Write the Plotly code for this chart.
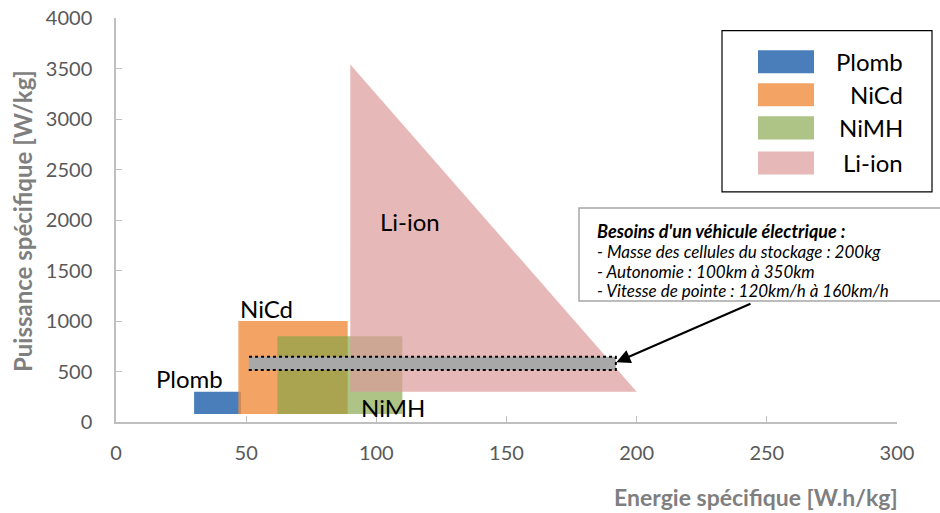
import plotly.graph_objects as go

# ---- data ----
names = ["Plomb", "NiCd", "NiMH", "Li-ion"]
plomb_x = [30, 48, 48, 30]
plomb_y = [80, 80, 300, 300]
nicd_x = [47, 89, 89, 47]
nicd_y = [80, 80, 1000, 1000]
nimh_x = [62, 110, 110, 62]
nimh_y = [80, 80, 850, 850]
liion_x = [90, 200, 90]
liion_y = [300, 300, 3540]
besoin_x = [51, 192, 192, 51]
besoin_y = [515, 515, 645, 645]

x_ticks = [0, 50, 100, 150, 200, 250, 300]
y_ticks = [0, 500, 1000, 1500, 2000, 2500, 3000, 3500, 4000]

label_pos = {"Plomb": (28.4, 434), "NiCd": (58, 1127), "NiMH": (106.4, 146), "Li-ion": (113, 1981)}
besoins_lines = [
    "<b><i>Besoins d'un véhicule électrique :</i></b>",
    "<i>- Masse des cellules du stockage : 200kg</i>",
    "<i>- Autonomie : 100km à 350km</i>",
    "<i>- Vitesse de pointe : 120km/h à 160km/h</i>",
]

colors = {
    "Plomb": "rgba(74,126,187,1)",
    "NiCd": "rgba(240,140,60,0.8)",
    "NiMH": "rgba(130,165,70,0.65)",
    "Li-ion": "rgba(219,155,154,0.7)",
}
series = {"Plomb": (plomb_x, plomb_y), "NiCd": (nicd_x, nicd_y),
          "NiMH": (nimh_x, nimh_y), "Li-ion": (liion_x, liion_y)}

FONT = "Lato"
fig = go.Figure()
for n in names:
    xs, ys = series[n]
    fig.add_trace(go.Scatter(x=xs, y=ys, fill="toself", mode="lines",
                             fillcolor=colors[n], line=dict(width=0, color=colors[n]),
                             name=n, showlegend=False, hoverinfo="name"))

fig.add_trace(go.Scatter(x=besoin_x, y=besoin_y, fill="toself", mode="lines",
                         fillcolor="#A8A8A8", line=dict(width=2, color="black", dash="dot"),
                         showlegend=False, name="Besoins"))

W, H = 940, 513
REF_L, REF_R, REF_T, REF_B = 116, 897, 18.3, 421.7
L, T = REF_L, REF_T
pw, ph = REF_R - REF_L, REF_B - REF_T
R = W - L - pw
B = H - T - ph

def px(xp):
    return (xp - REF_L) / pw

def py(yp):
    return (REF_B - yp) / ph

annotations = []
for n in names:
    x, y = label_pos[n]
    annotations.append(dict(x=x, y=y, xref="x", yref="y", text=n, showarrow=False,
                            xanchor="center", yanchor="middle",
                            font=dict(family=FONT, size=24, color="black")))

# arrow
annotations.append(dict(x=192.2, y=592, ax=244.3, ay=1177, xref="x", yref="y",
                        axref="x", ayref="y", showarrow=True, arrowhead=2,
                        arrowsize=1.4, arrowwidth=2, arrowcolor="black", text=""))

# text box lines
for i, (t, yy) in enumerate(zip(besoins_lines, [231, 251, 271, 290])):
    annotations.append(dict(x=px(595), y=py(yy), xref="paper", yref="paper", text=t,
                            showarrow=False, xanchor="left", yanchor="middle",
                            font=dict(family=FONT, size=18 if i == 0 else 17, color="black")))

# axis titles
annotations.append(dict(x=px(22), y=py(221), xref="paper", yref="paper",
                        xanchor="center", yanchor="middle",
                        text="<b>Puissance spécifique [W/kg]</b>", textangle=-90,
                        showarrow=False, font=dict(family=FONT, size=24, color="#7F7F7F")))
annotations.append(dict(x=px(756), y=py(497), xref="paper", yref="paper",
                        xanchor="center", yanchor="middle",
                        text="<b>Energie spécifique [W.h/kg]</b>",
                        showarrow=False, font=dict(family=FONT, size=23, color="#7F7F7F")))

shapes = []
# text box
shapes.append(dict(type="rect", xref="paper", yref="paper", x0=px(579), x1=px(948),
                   y0=py(301), y1=py(208), line=dict(color="#A6A6A6", width=1.5),
                   fillcolor="white", layer="below"))
# legend box
shapes.append(dict(type="rect", xref="paper", yref="paper", x0=px(722), x1=px(932),
                   y0=py(192), y1=py(31), line=dict(color="black", width=1.2),
                   fillcolor="white", layer="above"))
for n, cy in zip(names, [62, 95, 128, 163]):
    shapes.append(dict(type="rect", xref="paper", yref="paper", x0=px(758), x1=px(814),
                       y0=py(cy + 11.5), y1=py(cy - 11.5), line=dict(width=0),
                       fillcolor=colors[n], layer="above"))
    annotations.append(dict(x=px(905), y=py(cy), xref="paper", yref="paper", text=n,
                            showarrow=False, xanchor="right", yanchor="middle",
                            font=dict(family=FONT, size=24, color="black")))

axis_common = dict(showgrid=False, zeroline=False, showline=True, linecolor="#BFBFBF",
                   linewidth=1.5, ticks="inside", ticklen=6, tickcolor="#BFBFBF",
                   automargin=False, ticklabeloverflow="allow",
                   tickfont=dict(family=FONT, size=20, color="#595959"))

fig.update_layout(
    width=W, height=H, margin=dict(l=L, r=R, t=T, b=B, autoexpand=False),
    paper_bgcolor="white", plot_bgcolor="white",
    xaxis=dict(range=[0, 300], tickvals=x_ticks, ticklabelstandoff=12, **axis_common),
    yaxis=dict(range=[0, 4000], tickvals=y_ticks, ticklabelstandoff=18, **axis_common),
    annotations=annotations, shapes=shapes, showlegend=False,
)

fig.write_html("out.html", config={"displayModeBar": False},
               post_script="document.body.style.margin='0';")
